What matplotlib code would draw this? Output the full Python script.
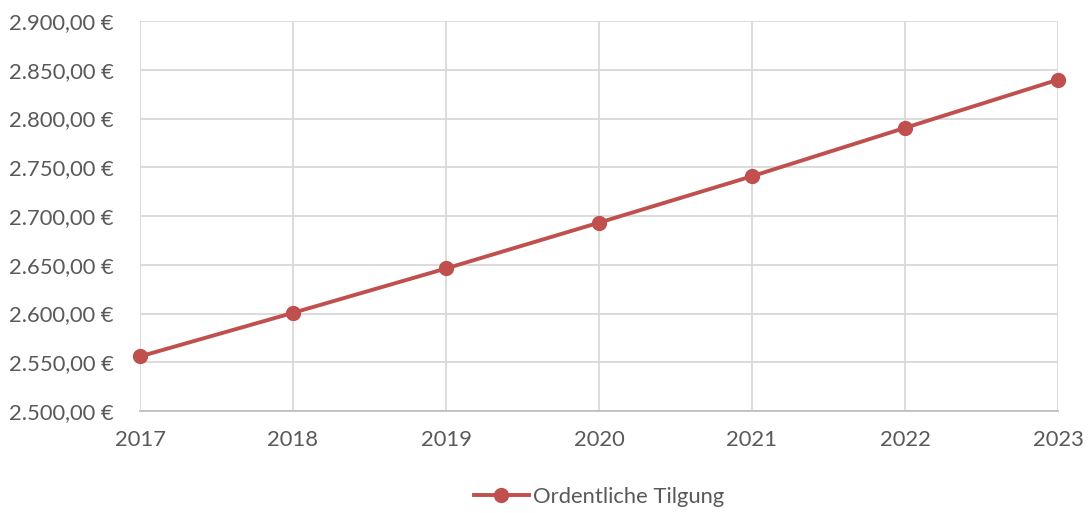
import numpy as np
import matplotlib.pyplot as plt
from matplotlib.ticker import FuncFormatter

plt.rcParams['font.family'] = ['Lato', 'DejaVu Sans']

years = [2017, 2018, 2019, 2020, 2021, 2022, 2023]
tilgung = [2556.0, 2600.7, 2646.2, 2693.2, 2740.8, 2790.4, 2839.8]  # EUR

red = '#C0504D'
txt = '#595959'


def euro(v, pos):
    s = f"{v:,.2f}".replace(',', 'X').replace('.', ',').replace('X', '.')
    return s + " €"


fig = plt.figure(figsize=(10.89, 5.13), dpi=100)
ax = fig.add_axes([0.1286, 0.1988, 0.8429, 0.7602])

ax.plot(years, tilgung, color=red, lw=2.8, marker='o', ms=10,
        label="Ordentliche Tilgung", zorder=3, clip_on=False)

ax.set_xlim(2017, 2023)
ax.set_ylim(2500, 2900)
ax.set_yticks(np.arange(2500, 2901, 50))
ax.set_xticks(years)
ax.yaxis.set_major_formatter(FuncFormatter(euro))

ax.grid(True, color='#D9D9D9', lw=1.3)
ax.set_axisbelow(True)
for side in ['top', 'right', 'left']:
    ax.spines[side].set_visible(False)
ax.spines['bottom'].set_color('#BFBFBF')
ax.spines['bottom'].set_linewidth(1.3)
ax.tick_params(axis='both', length=0, labelsize=15.8, colors=txt)
ax.tick_params(axis='y', pad=19)
ax.tick_params(axis='x', pad=14)

ax.legend(loc='center', bbox_to_anchor=(0.5, -0.22), frameon=False,
          fontsize=15.8, labelcolor=txt, handlelength=2.5, handletextpad=0.2)

plt.savefig('out.png')
